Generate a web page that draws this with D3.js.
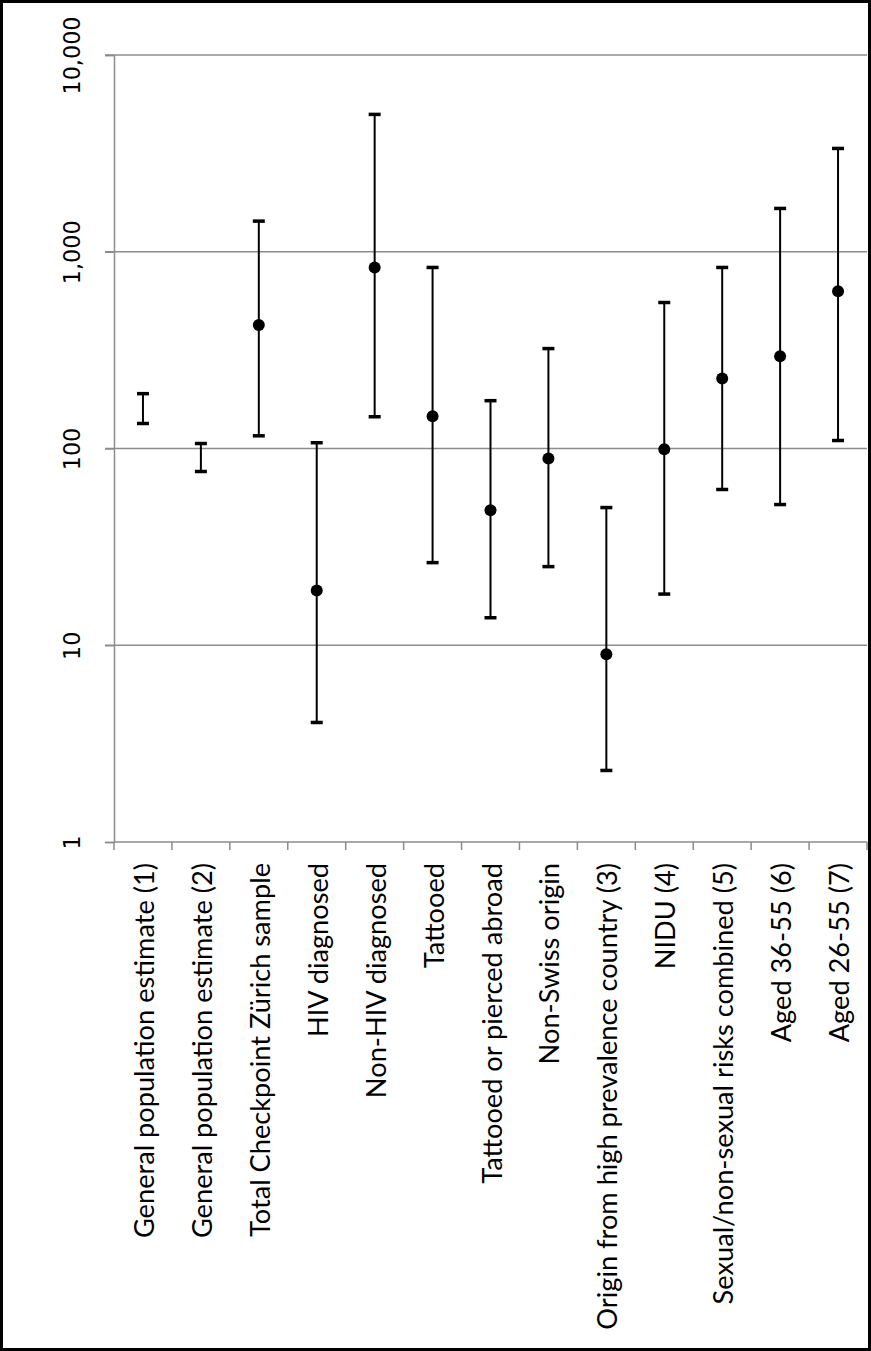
<!DOCTYPE html>
<html>
<head>
<meta charset="utf-8">
<script src="https://cdn.jsdelivr.net/npm/d3@7"></script>
<style>
  body { margin: 0; background: #fff; }
  svg { display: block; }
</style>
</head>
<body>
<div id="graphicContainer"></div>
<script>

var categories = [
  "General population estimate (1)",
  "General population estimate (2)",
  "Total Checkpoint Zürich sample",
  "HIV diagnosed",
  "Non-HIV diagnosed",
  "Tattooed",
  "Tattooed or pierced abroad",
  "Non-Swiss origin",
  "Origin from high prevalence country (3)",
  "NIDU (4)",
  "Sexual/non-sexual risks combined (5)",
  "Aged 36-55 (6)",
  "Aged 26-55 (7)"
];

// point estimate (null where the chart shows only the interval)
var estimate = [null, null, 424, 19, 832, 146, 48.6, 89, 9, 99, 227, 294, 629];
var lower    = [134, 76.4, 116, 4.05, 145, 26.3, 13.8, 25.1, 2.31, 18.2, 61.9, 51.9, 109.8];
var upper    = [190, 106, 1431, 107, 4990, 832, 175, 322, 50.1, 552, 832, 1660, 3350];

var yTicks = [1, 10, 100, 1000, 10000];

var data = categories.map(function(c, i) {
  return { name: c, est: estimate[i], lo: lower[i], hi: upper[i] };
});

var W = 871, H = 1351;
var margin = {top: 55, right: 4, bottom: 509, left: 114},
    width = W - margin.left - margin.right,
    height = H - margin.top - margin.bottom;

var svg = d3.select("#graphicContainer").append("svg")
    .attr("width", W)
    .attr("height", H);

svg.append("rect")
    .attr("x", 1.5).attr("y", 1.5)
    .attr("width", W - 3).attr("height", H - 3)
    .attr("fill", "#fff")
    .attr("stroke", "#000")
    .attr("stroke-width", 3);

var g = svg.append("g")
    .attr("transform", "translate(" + margin.left + "," + margin.top + ")");

var x = d3.scaleBand().domain(categories).range([0, width]);
var y = d3.scaleLog().domain([1, 10000]).range([height, 0]);

var grey = "#8c8c8c";

// horizontal gridlines with the small outside ticks
g.append("g")
  .selectAll("line")
  .data(yTicks.slice(1))
  .enter().append("line")
    .attr("x1", -9)
    .attr("x2", width)
    .attr("y1", function(d) { return y(d); })
    .attr("y2", function(d) { return y(d); })
    .attr("stroke", grey)
    .attr("stroke-width", 1.5);

// y axis
var yAxis = d3.axisLeft(y).tickValues(yTicks).tickSize(9).tickFormat(d3.format(","));
var ya = g.append("g").call(yAxis);
ya.select(".domain").attr("stroke", grey).attr("stroke-width", 1.5);
ya.selectAll(".tick line").attr("stroke", grey).attr("stroke-width", 1.5);
ya.selectAll(".tick text")
    .attr("x", null).attr("dy", null)
    .attr("text-anchor", "middle")
    .attr("transform", "translate(-34,0) rotate(-90)")
    .style("font-family", "'DejaVu Sans', Verdana, sans-serif")
    .style("font-size", "22.3px")
    .attr("fill", "#000");

// x axis: ticks on band boundaries, labels rotated
var xa = g.append("g").attr("transform", "translate(0," + height + ")");
xa.append("line")
    .attr("x1", 0).attr("x2", width)
    .attr("stroke", grey).attr("stroke-width", 1.5);
xa.selectAll(".bt")
  .data(categories.concat([null]))
  .enter().append("line")
    .attr("class", "bt")
    .attr("x1", function(d, i) { return d === null ? width : x(d); })
    .attr("x2", function(d, i) { return d === null ? width : x(d); })
    .attr("y1", 0).attr("y2", 8)
    .attr("stroke", grey).attr("stroke-width", 1.5);
xa.selectAll(".lbl")
  .data(categories)
  .enter().append("text")
    .attr("class", "lbl")
    .attr("transform", function(d) {
      return "translate(" + (x(d) + x.bandwidth() / 2 + 11) + ",21) rotate(-90)";
    })
    .attr("text-anchor", "end")
    .style("font-family", "Lato, 'Open Sans', sans-serif")
    .style("font-size", "27.2px")
    .attr("fill", "#000")
    .text(function(d) { return d; });

// error bars
var bars = g.selectAll(".err")
  .data(data)
  .enter().append("g")
    .attr("class", "err")
    .attr("transform", function(d) { return "translate(" + (x(d.name) + x.bandwidth() / 2) + ",0)"; });

bars.append("line")
    .attr("y1", function(d) { return y(d.lo); })
    .attr("y2", function(d) { return y(d.hi); })
    .attr("stroke", "#000")
    .attr("stroke-width", 2);

bars.selectAll(".cap")
  .data(function(d) { return [d.lo, d.hi]; })
  .enter().append("line")
    .attr("class", "cap")
    .attr("x1", -6).attr("x2", 6)
    .attr("y1", function(v) { return y(v); })
    .attr("y2", function(v) { return y(v); })
    .attr("stroke", "#000")
    .attr("stroke-width", 3.5);

bars.filter(function(d) { return d.est !== null; })
  .append("circle")
    .attr("cy", function(d) { return y(d.est); })
    .attr("r", 6)
    .attr("fill", "#000");

</script>
</body>
</html>
